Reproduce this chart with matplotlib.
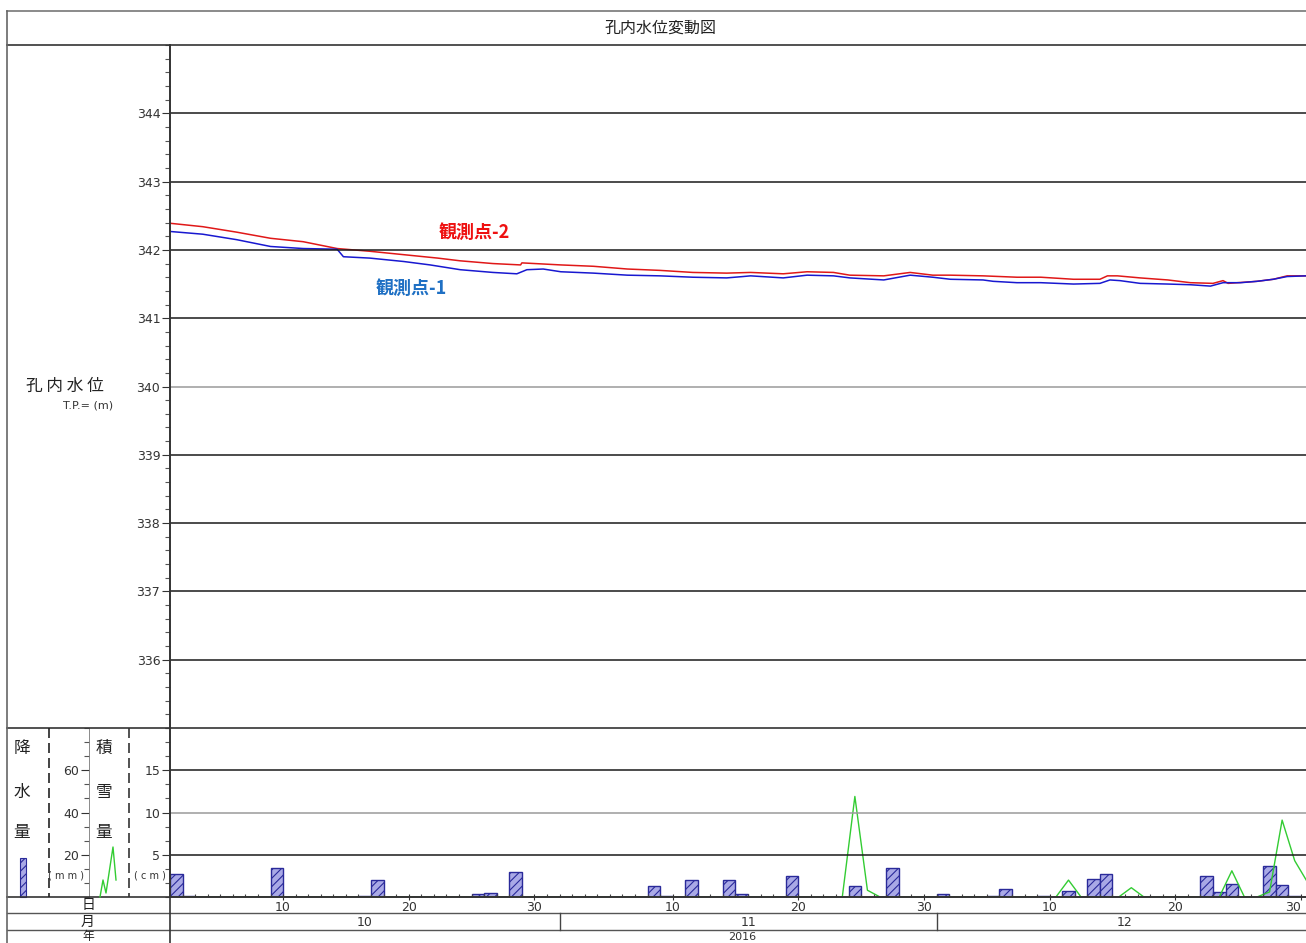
import matplotlib.pyplot as plt
from matplotlib.lines import Line2D
from matplotlib.patches import Rectangle
from matplotlib.ticker import MultipleLocator
from matplotlib.transforms import blended_transform_factory

plt.rcParams['font.family'] = ['Noto Sans CJK JP', 'DejaVu Sans']
plt.rcParams['hatch.linewidth'] = 0.8
plt.rcParams['hatch.color'] = '#2a2a90'
NUM = ['Liberation Sans Narrow', 'DejaVu Sans']

# x = days since 2016-10-01 (0 = start of Oct 1)
# 観測点-1 water level (T.P. m)
p1_days = [0, 2.6, 5.3, 8.0, 10.6, 13.3, 13.8, 15.9, 18.6, 20.7, 23.1, 25.7, 27.6, 28.4,
           29.7, 31.1, 33.7, 36.4, 39.0, 41.6, 44.3, 45.6, 46.2, 48.8, 50.7, 52.8, 54.1,
           56.8, 58.9, 60.7, 62.1, 64.7, 65.5, 67.4, 69.3, 71.9, 74.0, 74.8, 75.6, 77.2,
           79.4, 81.2, 82.8, 83.8, 85.2, 86.5, 87.8, 88.9, 90.4]
p1_level = [342.27, 342.23, 342.15, 342.05, 342.02, 342.01, 341.90, 341.88, 341.83, 341.78,
            341.71, 341.67, 341.65, 341.71, 341.72, 341.68, 341.66, 341.63, 341.62, 341.60,
            341.59, 341.61, 341.62, 341.59, 341.63, 341.62, 341.59, 341.56, 341.63, 341.60,
            341.57, 341.56, 341.54, 341.52, 341.52, 341.50, 341.51, 341.56, 341.55, 341.51,
            341.50, 341.49, 341.47, 341.52, 341.52, 341.54, 341.57, 341.61, 341.62]
# 観測点-2 water level (T.P. m)
p2_days = [0, 2.6, 5.3, 8.0, 10.6, 13.3, 15.9, 18.6, 21.3, 23.1, 25.7, 27.9, 28.0, 31.1,
           33.7, 36.4, 39.0, 41.6, 44.3, 46.2, 48.8, 50.7, 52.8, 54.1, 56.8, 58.9, 60.7,
           62.1, 64.7, 67.4, 69.3, 71.9, 74.0, 74.6, 75.4, 77.2, 79.4, 81.2, 83.0, 83.8,
           84.2, 86.5, 87.8, 88.9, 90.4]
p2_level = [342.39, 342.34, 342.26, 342.17, 342.12, 342.02, 341.98, 341.93, 341.88, 341.84,
            341.80, 341.78, 341.81, 341.78, 341.76, 341.72, 341.70, 341.67, 341.66, 341.67,
            341.65, 341.68, 341.67, 341.63, 341.62, 341.67, 341.63, 341.63, 341.62, 341.60,
            341.60, 341.57, 341.57, 341.62, 341.62, 341.59, 341.56, 341.52, 341.51, 341.55,
            341.51, 341.54, 341.57, 341.62, 341.62]

# daily precipitation (mm), bar starts at day index
rain_days = [0, 1, 8, 15, 16, 24, 25, 27, 38, 39, 41, 44, 45, 49, 54, 57, 61, 65, 66, 69,
             71, 73, 74, 82, 83, 84, 87, 88, 89]
rain_mm = [10.8, 0.5, 13.6, 0.5, 8.0, 1.5, 2.0, 11.8, 5.2, 0.5, 8.0, 8.0, 1.5, 10.0, 5.2,
           13.6, 1.5, 0.5, 3.8, 0.5, 2.8, 8.5, 11.0, 10.1, 2.3, 6.0, 14.7, 5.5, 0.5]

# snow depth (cm), at day centres
snow_days = [0.5, 53.5, 54.5, 55.5, 56.5, 70.5, 71.5, 72.5, 75.5, 76.5, 77.5, 83.5, 84.5,
             85.5, 86.5, 87.5, 88.5, 89.5, 90.5]
snow_cm = [0, 0, 11.9, 0.8, 0, 0, 2.0, 0, 0, 1.1, 0, 0, 3.1, 0, 0, 0.6, 9.1, 4.3, 1.8]

level_ticks = [336, 337, 338, 339, 340, 341, 342, 343, 344]
snow_ticks = [5, 10, 15]
rain_ticks = [20, 40, 60]
day_ticks = [9, 19, 29, 40, 50, 60, 70, 80, 90]
day_labels = ['10', '20', '30', '10', '20', '30', '10', '20', '30']
month_pos = [15.5, 46, 76]
month_labels = ['10', '11', '12']
month_breaks = [31, 61]
year_pos = 45.5
year_label = '2016'

W, H = 1306, 943
def fx(x): return x / W
def fy(y): return 1 - y / H

fig = plt.figure(figsize=(13.06, 9.43), dpi=100)
XMAX = 90.4
FRAME = '#333333'

# ---- main water level panel
ax = fig.add_axes([fx(170), fy(728), 1 - fx(170), (728 - 45) / H])
ax.plot(p2_days, p2_level, color='#e01818', lw=1.1)
ax.plot(p1_days, p1_level, color='#1818d0', lw=1.1)
for v in level_ticks:
    ax.axhline(v, color='#9a9a9a' if v == 340 else '#1a1a1a', lw=1.1)
ax.set_xlim(0, XMAX)
ax.set_ylim(335, 345)
ax.set_xticks([])
ax.set_yticks(level_ticks)
ax.yaxis.set_minor_locator(MultipleLocator(0.2))
ax.tick_params(axis='y', which='major', length=6, width=0.8, pad=1, labelsize=9, colors='#333')
ax.tick_params(axis='y', which='minor', length=3.5, width=0.8, colors='#555')
for lab in ax.get_yticklabels():
    lab.set_family(NUM)
for s in ['top', 'right', 'bottom']:
    ax.spines[s].set_visible(False)
ax.spines['left'].set_color(FRAME)
ax.spines['left'].set_linewidth(1.2)

ax.text(24.2, 342.25, '観測点-2', color='#ee1111', fontsize=13, fontweight='bold',
        ha='center', va='center')
ax.text(19.2, 341.43, '観測点-1', color='#1f70c4', fontsize=13, fontweight='bold',
        ha='center', va='center')

# ---- lower precipitation / snow panel
rect_b = [fx(170), fy(897), 1 - fx(170), (897 - 728) / H]
axr = fig.add_axes(rect_b)
axr.bar(rain_days, rain_mm, width=1.0, align='edge', facecolor='#a9a9e6',
        edgecolor='#2a2a9a', hatch='////', linewidth=1.0)
axr.set_xlim(0, XMAX)
axr.set_ylim(0, 80)
axr.set_axis_off()

axs = fig.add_axes(rect_b)
axs.plot(snow_days, snow_cm, color='#33cc33', lw=1.0)
axs.set_xlim(0, XMAX)
axs.set_ylim(0, 20)
axs.set_axis_off()

axb = fig.add_axes(rect_b)
axb.patch.set_alpha(0)
for v in snow_ticks:
    axb.axhline(v, color='#9a9a9a' if v == 10 else '#1a1a1a', lw=1.1)
axb.set_xlim(0, XMAX)
axb.set_ylim(0, 20)
axb.set_yticks(snow_ticks)
axb.yaxis.set_minor_locator(MultipleLocator(5 / 3))
axb.tick_params(axis='y', which='major', length=6, width=0.8, pad=1, labelsize=9, colors='#333')
axb.tick_params(axis='y', which='minor', length=3.5, width=0.8, colors='#555')
axb.set_xticks(day_ticks)
axb.set_xticklabels(day_labels)
axb.xaxis.set_minor_locator(MultipleLocator(1))
axb.tick_params(axis='x', which='major', direction='inout', length=4, width=0.8, pad=1,
                labelsize=9, colors='#333')
axb.tick_params(axis='x', which='minor', direction='in', length=2.5, width=0.8, colors='#444')
for lab in axb.get_yticklabels() + axb.get_xticklabels():
    lab.set_family(NUM)
axb.get_xticklabels()[-1].set_horizontalalignment('right')
for s in ['top', 'right']:
    axb.spines[s].set_visible(False)
for s in ['left', 'bottom']:
    axb.spines[s].set_color(FRAME)
    axb.spines[s].set_linewidth(1.2)

# precipitation scale in left column
axp = fig.add_axes([fx(89), fy(897), 0.0008, (897 - 728) / H])
axp.patch.set_alpha(0)
axp.set_ylim(0, 80)
axp.set_xticks([])
axp.set_yticks(rain_ticks)
axp.yaxis.set_minor_locator(MultipleLocator(20 / 3))
axp.tick_params(axis='y', which='major', length=6, width=0.8, pad=1, labelsize=9, colors='#333')
axp.tick_params(axis='y', which='minor', length=3.5, width=0.8, colors='#555')
for lab in axp.get_yticklabels():
    lab.set_family(NUM)
for s in ['top', 'right', 'bottom']:
    axp.spines[s].set_visible(False)
axp.spines['left'].set_color('#777')
axp.spines['left'].set_linewidth(0.6)

# ---- frame lines
def hline(y, x0=7, x1=W, **kw):
    fig.add_artist(Line2D([fx(x0), fx(x1)], [fy(y), fy(y)], transform=fig.transFigure,
                          color=kw.get('color', FRAME), lw=kw.get('lw', 1.2)))
def vline(x, y0, y1, **kw):
    fig.add_artist(Line2D([fx(x), fx(x)], [fy(y0), fy(y1)], transform=fig.transFigure,
                          color=kw.get('color', FRAME), lw=kw.get('lw', 1.2),
                          linestyle=kw.get('ls', '-')))

hline(11, color='#777777')
hline(45)
hline(728)
hline(897)
hline(913, color='#555555', lw=1.0)
hline(930, color='#555555', lw=1.0)
vline(7, 11, 943, color='#666666')
vline(170, 45, 943)
vline(49, 728, 897, color='#222', lw=1.2, ls=(0, (6, 3)))
vline(129, 728, 897, color='#333', lw=1.2, ls=(0, (6, 3)))

# month / year rows
tb = blended_transform_factory(axb.transData, fig.transFigure)
for m in month_breaks:
    fig.add_artist(Line2D([m, m], [fy(913), fy(930)], transform=tb, color='#444', lw=1.0))
for p, lab in zip(month_pos, month_labels):
    fig.text(p, fy(922), lab, transform=tb, ha='center', va='center', fontsize=9,
             family=NUM, color='#333')
fig.text(year_pos, fy(936.5), year_label, transform=tb, ha='center', va='center', fontsize=8,
         family=NUM, color='#333')

# ---- texts
fig.text(fx(660), fy(28), '孔内水位変動図', ha='center', va='center', fontsize=11.5, color='#222')
fig.text(fx(65), fy(386), '孔 内 水 位', ha='center', va='center', fontsize=12, color='#222')
fig.text(fx(88), fy(406), 'T.P.= (m)', ha='center', va='center', fontsize=8, family=NUM,
         color='#333')
for ch, y in zip('降水量', [748, 792, 833]):
    fig.text(fx(22), fy(y), ch, ha='center', va='center', fontsize=12, color='#222')
for ch, y in zip('積雪量', [748, 792, 833]):
    fig.text(fx(104), fy(y), ch, ha='center', va='center', fontsize=12, color='#222')
fig.text(fx(66), fy(876), '( m m )', ha='center', va='center', fontsize=7, family=NUM, color='#333')
fig.text(fx(150), fy(876), '( c m )', ha='center', va='center', fontsize=7, family=NUM, color='#333')
fig.text(fx(88), fy(905), '日', ha='center', va='center', fontsize=10, color='#222')
fig.text(fx(88), fy(922), '月', ha='center', va='center', fontsize=10, color='#222')
fig.text(fx(88), fy(936.5), '年', ha='center', va='center', fontsize=8.5, color='#222')

# legend swatches in left column
fig.add_artist(Rectangle((fx(20), fy(897)), 6 / W, 39 / H, transform=fig.transFigure,
                         facecolor='#a9a9e6', edgecolor='#2a2a9a', hatch='////', lw=0.8))
fig.add_artist(Line2D([fx(100), fx(103), fx(106), fx(113), fx(116)],
                      [fy(897), fy(880), fy(893), fy(847), fy(880)],
                      transform=fig.transFigure, color='#33cc33', lw=1.0))

fig.savefig('out.png', dpi=100)
